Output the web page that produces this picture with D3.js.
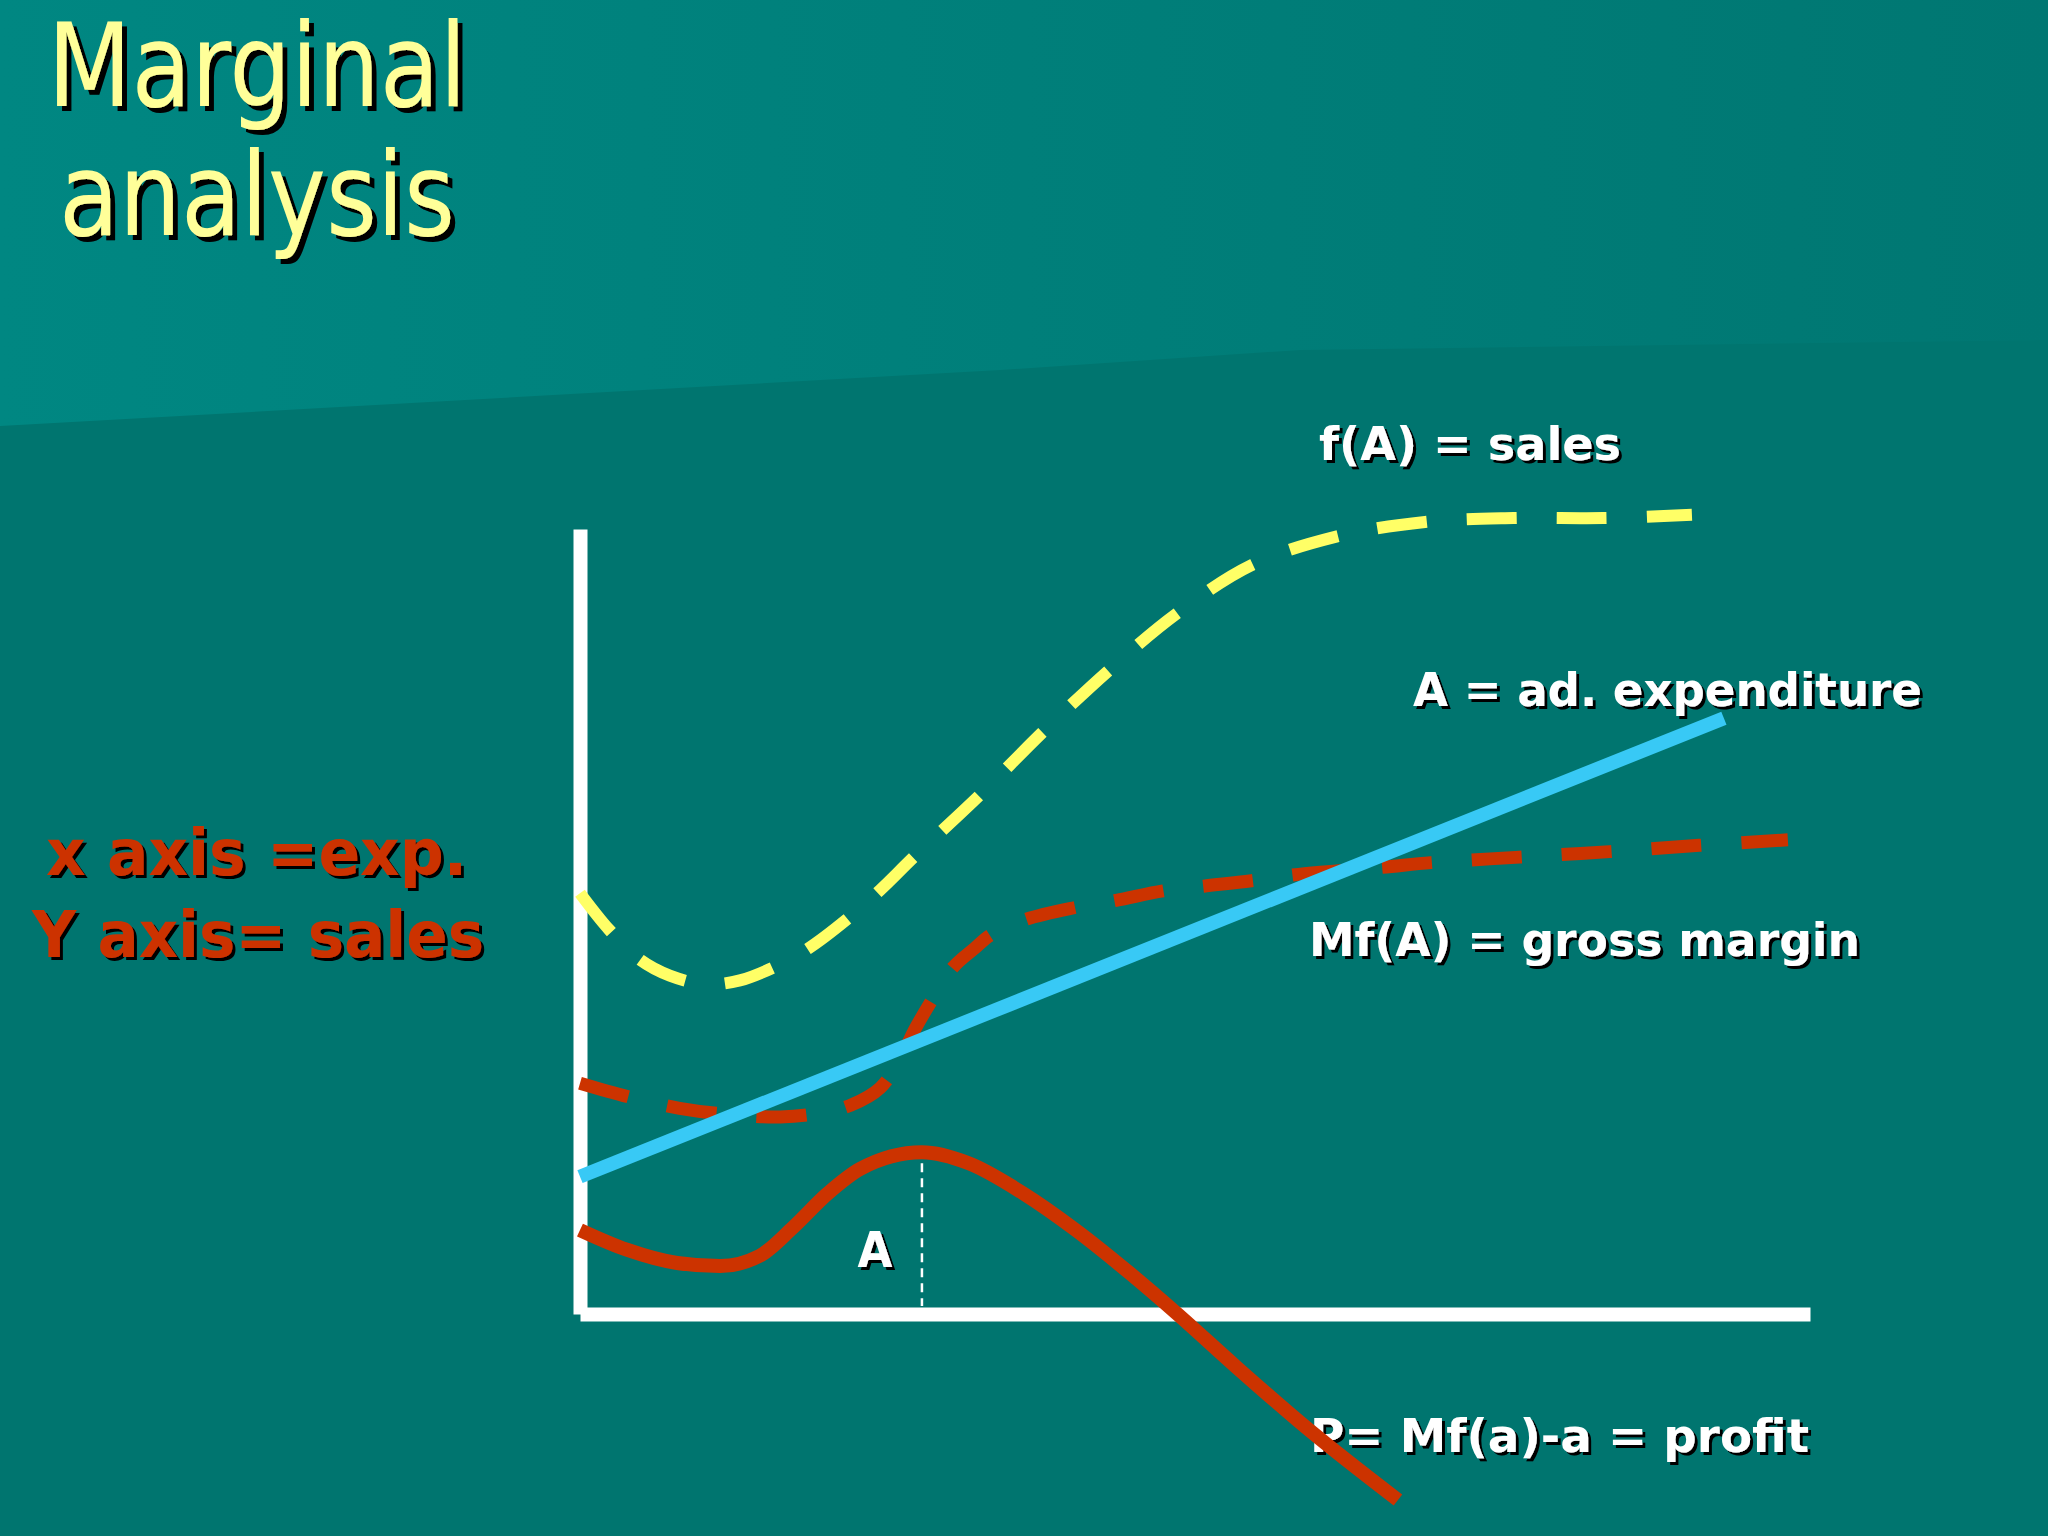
<!DOCTYPE html>
<html>
<head>
<meta charset="utf-8">
<script src="https://cdn.jsdelivr.net/npm/d3@7"></script>
<style>
  html, body { margin: 0; padding: 0; background: #00756f; }
  svg { display: block; }
  .lbl { font-family: "DejaVu Sans Condensed", "DejaVu Sans", Verdana, sans-serif; }
</style>
</head>
<body>
<div id="chart"></div>
<script>
// curves (x = ad spend, y = money, 0..100 units)
const salesX = [0, 2.4, 4.9, 7.3, 10.2, 13.0, 15.8, 18.5, 21.8, 24.4, 27.2, 32.5, 37.6, 43.0, 48.5, 54.6, 61.4, 68.7, 75.9, 83.2, 90.4];
const salesY = [53.6, 48.9, 45.1, 43.1, 42.0, 42.5, 44.2, 46.5, 50.4, 54.0, 58.3, 66.1, 74.1, 82.0, 89.2, 95.4, 99.0, 100.9, 101.4, 101.4, 101.8];

const marginX = [0, 4.1, 8.1, 12.2, 16.3, 19.5, 22.0, 24.4, 26.0, 27.2, 28.5, 30.3, 32.1, 33.4, 36.3, 40.3, 43.6, 47.4, 50.7, 54.6, 58.9, 65.2, 69.2, 76.4, 83.7, 91.0, 98.2];
const marginY = [29.4, 27.6, 26.2, 25.4, 25.1, 25.6, 26.6, 28.8, 32.4, 36.2, 39.7, 44.1, 46.6, 48.3, 50.3, 51.8, 52.7, 53.9, 54.5, 55.2, 56.1, 56.9, 57.5, 58.2, 58.9, 59.7, 60.4];

const adX = [0, 93.0];
const adY = [17.5, 75.9];

const profitX = [0, 3.8, 7.9, 11.4, 14.6, 17.3, 20.1, 22.8, 27.8, 31.6, 36.0, 40.3, 44.7, 48.5, 53.4, 59.3, 66.5];
const profitY = [10.7, 8.2, 6.5, 6.1, 7.4, 11.0, 15.3, 18.5, 20.6, 19.2, 15.4, 10.7, 5.2, 0.1, -6.8, -14.8, -23.7];

const optimumX = 27.8;
const optimumY = 19.2;

const width = 2048, height = 1536;

const svg = d3.select("#chart").append("svg")
    .attr("width", width)
    .attr("height", height);

const defs = svg.append("defs");
const grad = defs.append("linearGradient").attr("id", "topGrad")
    .attr("x1", "0%").attr("x2", "100%").attr("y1", "0%").attr("y2", "0%");
grad.append("stop").attr("offset", "0%").attr("stop-color", "#008782");
grad.append("stop").attr("offset", "100%").attr("stop-color", "#007772");

// hard black drop shadows like the slide's text
[3, 5].forEach(d => {
    defs.append("filter").attr("id", `shadow${d}`)
        .attr("x", "-10%").attr("y", "-20%").attr("width", "130%").attr("height", "150%")
        .append("feDropShadow")
        .attr("dx", d).attr("dy", d)
        .attr("stdDeviation", 0)
        .attr("flood-color", "#000000")
        .attr("flood-opacity", 1);
});

// background: lighter slanted band on top
svg.append("rect").attr("width", width).attr("height", height).attr("fill", "#00756f");
svg.append("path")
    .attr("d", "M0,0H2048V340L1300,350L1000,370L0,426Z")
    .attr("fill", "url(#topGrad)");

// scales
const x = d3.scaleLinear().domain([0, 100]).range([580, 1810]);
const y = d3.scaleLinear().domain([0, 100]).range([1314, 529]);

const line = d3.line()
    .x(d => x(d[0]))
    .y(d => y(d[1]))
    .curve(d3.curveCatmullRom.alpha(0.5));

const smoothLine = d3.line()
    .x(d => x(d[0]))
    .y(d => y(d[1]))
    .curve(d3.curveMonotoneX);

const zip = (a, b) => a.map((v, i) => [v, b[i]]);

// axes, no ticks
svg.append("g")
    .attr("transform", `translate(0,${y(0)})`)
    .call(d3.axisBottom(x).tickValues([]).tickSizeOuter(0))
    .select(".domain")
    .attr("stroke", "#ffffff")
    .attr("stroke-width", 14);

svg.append("g")
    .attr("transform", `translate(${x(0)},0)`)
    .call(d3.axisLeft(y).tickValues([]).tickSizeOuter(0))
    .select(".domain")
    .attr("stroke", "#ffffff")
    .attr("stroke-width", 14);

function shadowText(tx, ty, str, opts) {
    const t = svg.append("text")
        .attr("class", "lbl")
        .attr("x", tx)
        .attr("y", ty)
        .attr("fill", opts.color)
        .attr("font-size", opts.size)
        .attr("text-anchor", opts.anchor || "start")
        .attr("filter", `url(#shadow${opts.shadow || 3})`)
        .style("font-weight", opts.weight || "bold")
        .text(str);
    if (opts.len) t.attr("textLength", opts.len).attr("lengthAdjust", "spacingAndGlyphs");
    return t;
}

// title
shadowText(257, 106, "Marginal", { color: "#ffff99", size: 116, anchor: "middle", weight: "normal", len: 419, shadow: 5 });
shadowText(257, 235, "analysis", { color: "#ffff99", size: 116, anchor: "middle", weight: "normal", len: 396, shadow: 5 });

// left notes
shadowText(46, 875, "x axis =exp.", { color: "#cc3300", size: 64, len: 421 });
shadowText(32, 957, "Y axis= sales", { color: "#cc3300", size: 64, len: 452 });

// curve labels
shadowText(1319, 460, "f(A) = sales", { color: "#ffffff", size: 46, len: 302 });
shadowText(1413, 706, "A = ad. expenditure", { color: "#ffffff", size: 46, len: 509 });
shadowText(1309, 956, "Mf(A) = gross margin", { color: "#ffffff", size: 46, len: 551 });
shadowText(1310, 1452, "P= Mf(a)-a = profit", { color: "#ffffff", size: 46, len: 499 });
shadowText(875, 1267, "A", { color: "#ffffff", size: 50, anchor: "middle" });

// optimum marker
svg.append("line")
    .attr("x1", x(optimumX)).attr("x2", x(optimumX))
    .attr("y1", y(optimumY)).attr("y2", y(0) - 8)
    .attr("stroke", "#ffffff")
    .attr("stroke-width", 2.5)
    .attr("stroke-dasharray", "9,6");

// f(A) sales
svg.append("path")
    .attr("d", line(zip(salesX, salesY)))
    .attr("fill", "none")
    .attr("stroke", "#ffff66")
    .attr("stroke-width", 12)
    .attr("stroke-dasharray", "50,40");

// Mf(A) gross margin
svg.append("path")
    .attr("d", line(zip(marginX, marginY)))
    .attr("fill", "none")
    .attr("stroke", "#cc3300")
    .attr("stroke-width", 13)
    .attr("stroke-dasharray", "50,40");

// A ad expenditure
svg.append("path")
    .attr("d", line(zip(adX, adY)))
    .attr("fill", "none")
    .attr("stroke", "#38c9f5")
    .attr("stroke-width", 14);

// profit
svg.append("path")
    .attr("d", smoothLine(zip(profitX, profitY)))
    .attr("fill", "none")
    .attr("stroke", "#cc3300")
    .attr("stroke-width", 14);
</script>
</body>
</html>
